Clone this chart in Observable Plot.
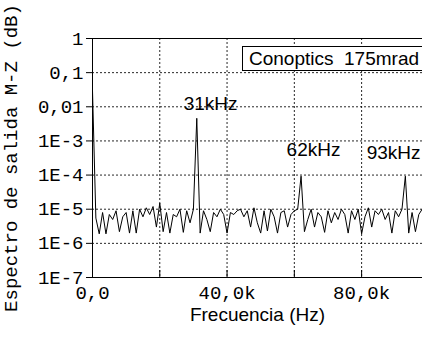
<!DOCTYPE html>
<html>
<head>
<meta charset="utf-8">
<script src="https://cdn.jsdelivr.net/npm/d3@7"></script>
<script src="https://cdn.jsdelivr.net/npm/@observablehq/plot@0.6"></script>
<style>
  html, body { margin: 0; padding: 0; background: #fff; }
  #wrap { position: relative; width: 422px; height: 337px; overflow: hidden; }
  #legend {
    position: absolute; left: 242px; top: 46px; width: 190px; height: 25px;
    border: 1px solid #000; background: #fff; box-sizing: border-box;
    font-family: "Liberation Sans", Arial, sans-serif; font-size: 19px;
    line-height: 24px; padding-left: 6px; white-space: pre; color: #000;
  }
</style>
</head>
<body>
<div id="wrap"><div id="legend"></div></div>
<script>
// Frequency step of the spectrum (Hz)
const paso = 1000;
// Spectrum values (linear, plotted on log axis), one per 1 kHz starting at 0 Hz
const espectro = [
  3e-2, 5.5e-6, 1.9e-6, 8e-6, 1.9e-6, 7e-6, 5e-6, 9e-6, 2.2e-6, 6e-6,
  8e-6, 2.0e-6, 9e-6, 2.0e-6, 1.0e-5, 6e-6, 1.1e-5, 7e-6, 1.2e-5, 3e-6,
  1.5e-5, 2.2e-6, 8e-6, 2.0e-6, 7e-6, 6e-6, 1.0e-5, 2.1e-6, 9e-6, 4e-6,
  1.0e-5, 4.6e-3, 2.0e-6, 9e-6, 5e-6, 2.2e-6, 8e-6, 6e-6, 1.0e-5, 7e-6,
  2.0e-6, 8e-6, 7e-6, 9e-6, 1.0e-5, 6e-6, 9e-6, 3e-6, 1.1e-5, 4e-6,
  2.0e-6, 9e-6, 2.3e-6, 1.0e-5, 6e-6, 2.0e-6, 8e-6, 9e-6, 3e-6, 7e-6,
  9e-6, 1.0e-5, 9.3e-5, 2.2e-6, 5e-6, 1.0e-5, 3e-6, 8e-6, 6e-6, 2.1e-6,
  9e-6, 4e-6, 8e-6, 5e-6, 1.0e-5, 7e-6, 2.0e-6, 9e-6, 5e-6, 1.0e-5,
  1.9e-6, 6e-6, 1.1e-5, 3e-6, 9e-6, 7e-6, 1.0e-5, 5e-6, 8e-6, 2.0e-6,
  9e-6, 6e-6, 1.0e-5, 9.3e-5, 2.0e-6, 8e-6, 2.2e-6, 7e-6, 1.0e-5
];

// Axis ticks and labels
const yTicks = [1, 1e-1, 1e-2, 1e-3, 1e-4, 1e-5, 1e-6, 1e-7];
const yTickLabels = ["1", "0,1", "0,01", "1E-3", "1E-4", "1E-5", "1E-6", "1E-7"];
const xGrid = [0, 20000, 40000, 60000, 80000];
const xTicks = [0, 40000, 80000];
const xTickLabels = ["0,0", "40,0k", "80,0k"];
const yTitulo = "Espectro de salida M-Z (dB)";
const xTitulo = "Frecuencia (Hz)";

// Peak annotations
const picoTexto = ["31kHz", "62kHz", "93kHz"];
const picoX = [35100, 65700, 89500];
const picoY = [1.2e-2, 5.4e-4, 4.4e-4];

const leyenda = "Conoptics  175mrad";

const datos = espectro.map((v, i) => ({f: i * paso, v}));
const anot = picoTexto.map((t, i) => ({t, x: picoX[i], y: picoY[i]}));
const yLab = yTicks.map((v, i) => ({v, t: yTickLabels[i]}));

const mono = "Liberation Mono, Courier New, monospace";
const sans = "Liberation Sans, Arial, sans-serif";

const chart = Plot.plot({
  width: 422,
  height: 337,
  marginLeft: 92,
  marginRight: 0,
  marginTop: 38,
  marginBottom: 60,
  style: {background: "white", color: "black", overflow: "visible"},
  x: {domain: [0, 98100]},
  y: {type: "log", domain: [1e-7, 1]},
  marks: [
    Plot.gridY(yTicks.slice(1, -1), {stroke: "black", strokeOpacity: 0.85, strokeDasharray: "2,2"}),
    Plot.gridX(xGrid.slice(1), {stroke: "black", strokeOpacity: 0.85, strokeDasharray: "2,2"}),
    Plot.ruleY([1, 1e-7], {stroke: "black"}),
    Plot.ruleX([0], {stroke: "black"}),
    Plot.axisY(yTicks, {anchor: "left", tickSize: 6, text: null, label: null}),
    Plot.text(yLab, {
      y: "v", text: "t", frameAnchor: "left", dx: -9, textAnchor: "end",
      fontFamily: mono, fontSize: 19, fill: "black"
    }),
    Plot.axisY({
      anchor: "left", ticks: [], label: yTitulo, labelAnchor: "center", labelArrow: "none",
      labelOffset: 89, fontFamily: mono, fontSize: 19, tickSize: 0
    }),
    Plot.axisX(xGrid, {anchor: "bottom", tickSize: 7, dy: -7, text: null, label: null}),
    Plot.axisX({
      anchor: "bottom", ticks: xTicks, tickFormat: (d, i) => xTickLabels[i], tickSize: 0, tickPadding: 8,
      fontFamily: mono, fontSize: 19, label: null
    }),
    Plot.axisX({
      anchor: "bottom", ticks: [], tickSize: 0, label: xTitulo, labelAnchor: "center", labelArrow: "none",
      labelOffset: 43, fontFamily: sans, fontSize: 19
    }),
    Plot.line(datos, {x: "f", y: "v", stroke: "black", strokeWidth: 1, clip: true}),
    Plot.text(anot, {x: "x", y: "y", text: "t", fontFamily: sans, fontSize: 19, fill: "black", textAnchor: "middle"})
  ]
});
document.getElementById("wrap").prepend(chart);
document.getElementById("legend").textContent = leyenda;
</script>
</body>
</html>
